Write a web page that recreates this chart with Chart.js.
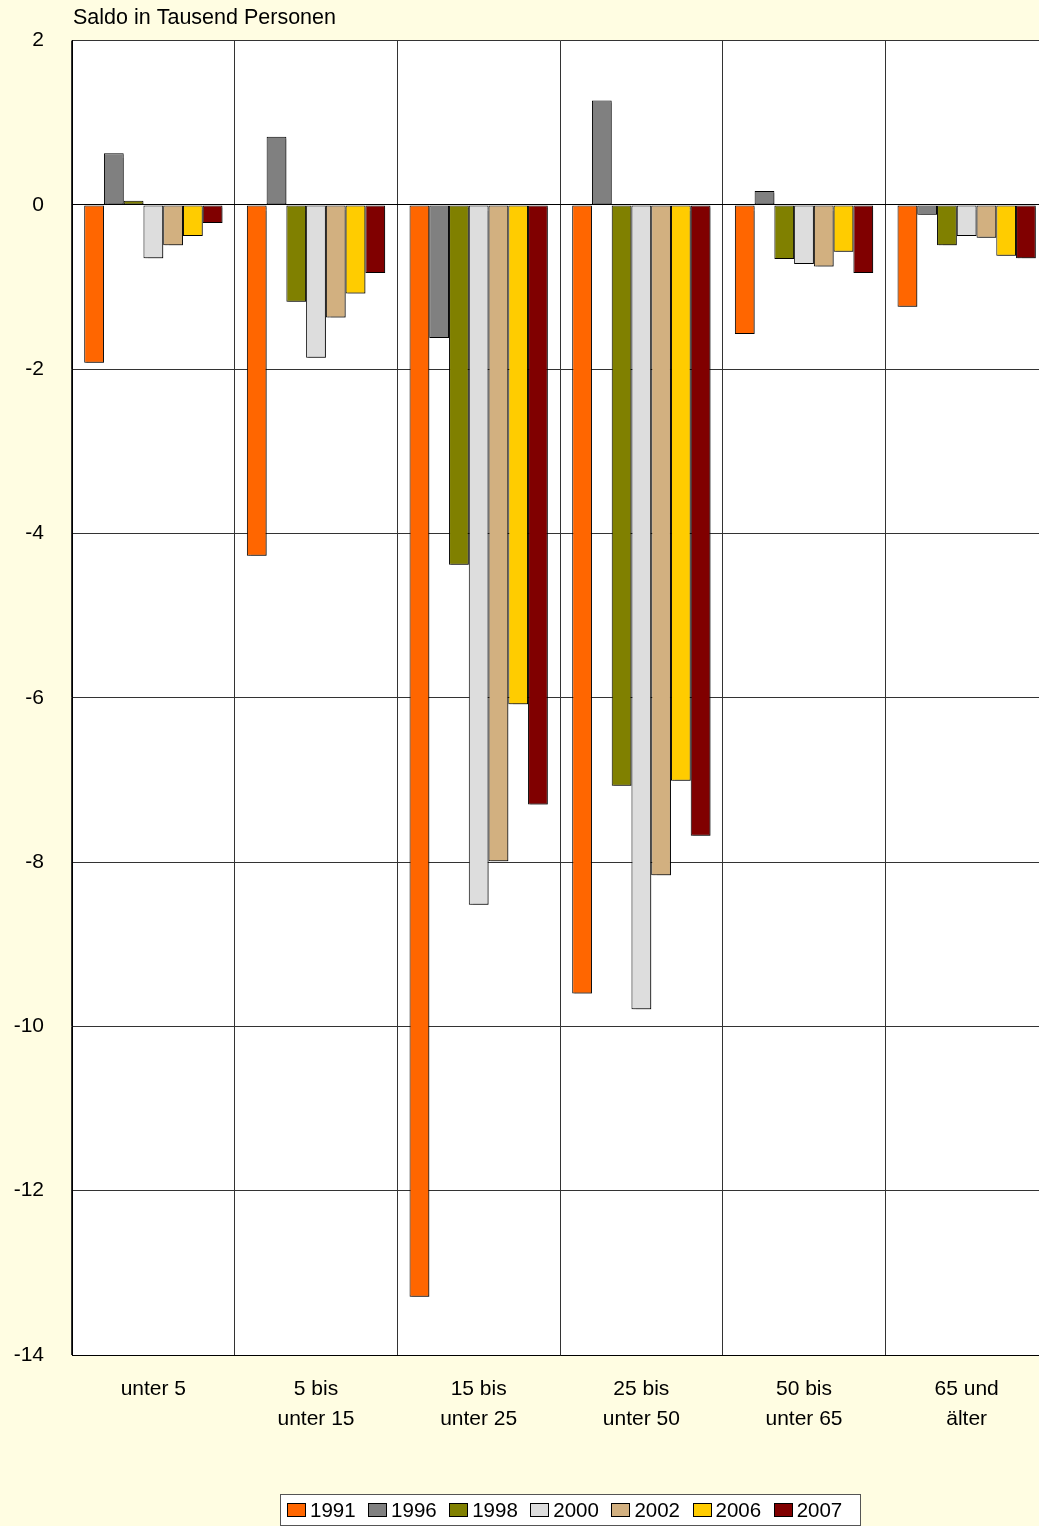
<!DOCTYPE html>
<html>
<head>
<meta charset="utf-8">
<script src="https://cdn.jsdelivr.net/npm/chart.js@4/dist/chart.umd.min.js"></script>
<style>
  html, body { margin: 0; padding: 0; background: #FFFDE2; overflow: hidden; }
  #wrap { width: 1039px; height: 1526px; overflow: hidden; }
</style>
</head>
<body>
<div id="wrap"><canvas id="saldoChart" width="1048" height="1526"></canvas></div>
<script>
// age groups (x axis)
let categories = [["unter 5"], ["5 bis", "unter 15"], ["15 bis", "unter 25"], ["25 bis", "unter 50"], ["50 bis", "unter 65"], ["65 und", "älter"]];

// years (series)
let years = ["1991", "1996", "1998", "2000", "2002", "2006", "2007"];
let colors = ["#FF6600", "#808080", "#808000", "#DDDDDD", "#D2B080", "#FFCC00", "#800000"];

// saldo in thousand persons, one array per year
let v1991 = [-1.92, -4.27, -13.29, -9.60, -1.57, -1.24];
let v1996 = [0.63, 0.83, -1.62, 1.27, 0.17, -0.12];
let v1998 = [0.05, -1.18, -4.38, -7.07, -0.66, -0.49];
let v2000 = [-0.65, -1.86, -8.52, -9.79, -0.72, -0.38];
let v2002 = [-0.49, -1.37, -7.99, -8.16, -0.75, -0.40];
let v2006 = [-0.38, -1.08, -6.08, -7.01, -0.57, -0.62];
let v2007 = [-0.22, -0.83, -7.30, -7.68, -0.83, -0.65];
let values = [v1991, v1996, v1998, v2000, v2002, v2006, v2007];

// y axis
let yMin = -14;
let yMax = 2;
let yStep = 2;
let axisTitle = "Saldo in Tausend Personen";

let fontName = "Arial, 'Liberation Sans', sans-serif";

// white plot area, bar shadows, title above the plot, boxed legend at the bottom
let extrasPlugin = {
  id: "extras",
  beforeDraw(chart) {
    let ctx = chart.ctx;
    let a = chart.chartArea;
    ctx.save();
    ctx.fillStyle = "#FFFFFF";
    ctx.fillRect(a.left, a.top, a.right - a.left, a.bottom - a.top);
    ctx.restore();
  },
  beforeDatasetsDraw(chart) {
    let ctx = chart.ctx;
    ctx.save();
    ctx.shadowColor = "rgba(0,0,0,0.35)";
    ctx.shadowOffsetX = 2;
    ctx.shadowOffsetY = 2;
    ctx.shadowBlur = 1;
  },
  afterDatasetsDraw(chart) {
    chart.ctx.restore();
  },
  afterDraw(chart) {
    let ctx = chart.ctx;
    let a = chart.chartArea;
    ctx.save();
    // axis title
    ctx.font = "21.5px " + fontName;
    ctx.fillStyle = "#000";
    ctx.textBaseline = "middle";
    ctx.textAlign = "left";
    ctx.fillText(axisTitle, a.left + 1, 18);

    // legend
    ctx.font = "20.5px " + fontName;
    let boxW = 19, boxH = 14, gap = 4, spacing = 12.5;
    let left = 280, top = 1494, w = 580, h = 31;
    ctx.fillStyle = "#FFFFFF";
    ctx.fillRect(left, top, w, h);
    ctx.strokeStyle = "#555";
    ctx.lineWidth = 1;
    ctx.strokeRect(left + 0.5, top + 0.5, w, h);
    let x = left + 7;
    let midY = top + h / 2 + 0.5;
    chart.data.datasets.forEach(ds => {
      let tw = ctx.measureText(ds.label).width;
      ctx.fillStyle = ds.backgroundColor;
      ctx.fillRect(Math.round(x), Math.round(midY - boxH / 2), boxW, boxH);
      ctx.strokeStyle = "#000";
      ctx.strokeRect(Math.round(x) + 0.5, Math.round(midY - boxH / 2) + 0.5, boxW - 1, boxH - 1);
      ctx.fillStyle = "#000";
      ctx.fillText(ds.label, x + boxW + gap, midY + 1);
      x += boxW + gap + tw + spacing;
    });
    ctx.restore();
  }
};

let datasets = years.map((y, i) => ({
  label: y,
  data: values[i],
  backgroundColor: colors[i],
  borderColor: "#000",
  borderWidth: 1,
  borderSkipped: false,
  categoryPercentage: 0.85,
  barPercentage: 1.0
}));

let ctx = document.getElementById("saldoChart").getContext("2d");
let chart = new Chart(ctx, {
  type: "bar",
  data: { labels: categories, datasets: datasets },
  options: {
    responsive: false,
    animation: false,
    layout: { padding: { top: 40, right: 0, bottom: 0, left: 0 } },
    plugins: {
      legend: { display: false },
      tooltip: { enabled: false }
    },
    scales: {
      x: {
        afterFit: s => { s.height = 171; },
        grid: { color: "#333", lineWidth: 1, drawTicks: false, offset: true },
        border: { color: "#000", width: 1 },
        ticks: {
          color: "#000",
          font: { family: fontName, size: 21, lineHeight: 1.4 },
          padding: 20,
          maxRotation: 0
        }
      },
      y: {
        min: yMin,
        max: yMax,
        afterFit: s => { s.width = 72; },
        grid: {
          color: c => (c.tick && c.tick.value === 0 ? "#000" : "#333"),
          lineWidth: 1,
          drawTicks: false
        },
        border: { color: "#000", width: 1 },
        ticks: {
          stepSize: yStep,
          color: "#000",
          font: { family: fontName, size: 21 },
          padding: 28
        }
      }
    }
  },
  plugins: [extrasPlugin]
});
</script>
</body>
</html>
